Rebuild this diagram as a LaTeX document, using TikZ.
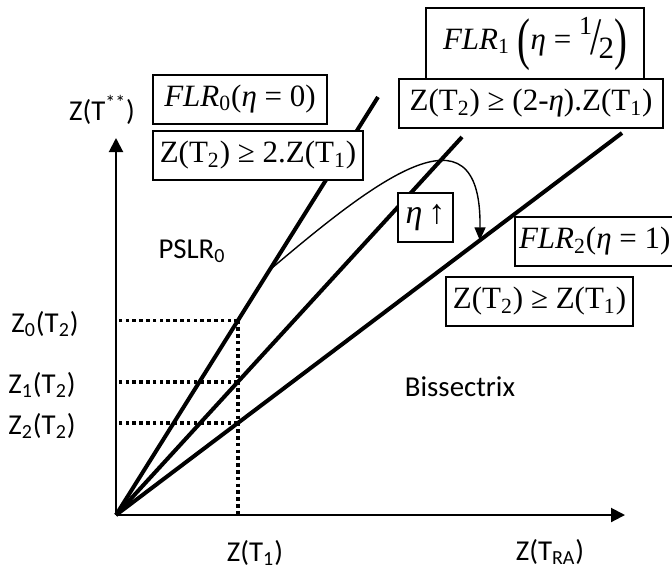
\documentclass[tikz,border=0pt]{standalone}
\usepackage{fontspec}
\setmainfont{Carlito}
\newfontfamily\tnr{Liberation Serif}
\usetikzlibrary{arrows.meta,calc}
\newcommand{\bigparen}[1]{\raisebox{-0.3em}{\scalebox{1.25}[1.85]{#1}}}
\begin{document}
\begin{tikzpicture}[x=0.5pt, y=0.5pt, every node/.style={font=\fontsize{14.4}{16}\selectfont}, line width=1pt,
  eqbox/.style={draw, fill=white, inner sep=2pt, minimum height=24.5pt, font=\fontsize{15.5}{18}\selectfont\tnr},
  dots/.style={line width=1.8pt, dash pattern=on 1.8pt off 1.6pt}]
  \useasboundingbox (0,0) rectangle (672,570);
  \coordinate (O) at (116,55);
  \coordinate (xa) at (625,55);
  \coordinate (ya) at (116,432);
  \draw[-{Triangle[length=7pt,width=7pt]}] (O) -- (xa);
  \draw[-{Triangle[length=7pt,width=7pt]}] (O) -- (ya);
  \foreach \n/\x/\y in {0/378/473, 1/462/433, 2/622/437} {
    \pgfmathsetmacro\tpos{122/(\x-116)}
    \coordinate (L\n) at (\x,\y);
    \coordinate (P\n) at ($(O)!\tpos!(L\n)$);
    \draw[line width=2pt] (O) -- (L\n);
    \draw[dots] (P\n) -- (O |- P\n);
  }
  \draw[dots] (P0) -- (P0 |- O);
  \node (zstar) at (102,460) {Z(T\textsuperscript{**})};
  \node (z0) at (45,246) {Z\textsubscript{0}(T\textsubscript{2})};
  \node (z1) at (42,185) {Z\textsubscript{1}(T\textsubscript{2})};
  \node (z2) at (42,144) {Z\textsubscript{2}(T\textsubscript{2})};
  \node (zt1) at (255,17) {Z(T\textsubscript{1})};
  \node (zra) at (550,18) {Z(T\textsubscript{RA})};
  \node (pslr) at (192,319) {PSLR\textsubscript{0}};
  \node (bis) at (460,183) {Bissectrix};
  \coordinate (C0) at ($(O)!0.586!(L0)$);
  \coordinate (C2) at ($(O)!0.719!(L2)$);
  \draw[line width=0.7pt, -{Triangle[length=6.5pt,width=5.5pt]}] (C0) .. controls (370,385) and (482,475) .. (C2);
  \node[eqbox, minimum width=87pt] (flr0) at (240,471) {\textit{FLR}\textsubscript{0}(\textit{η} = 0)};
  \node[eqbox, minimum width=105pt] (ineq0) at (258,414.5) {Z(T\textsubscript{2}) ≥ 2.Z(T\textsubscript{1})};
  \node[eqbox, minimum width=109pt, minimum height=36pt] (flr1) at (535,526) {\textit{FLR}\textsubscript{1} \bigparen{(}\textit{η} = \raisebox{.5em}{\fontsize{13}{14}\selectfont 1}\kern-.05em\raisebox{-.15em}{\scalebox{1.3}[1.7]{/}}\kern-.1em\raisebox{-.3em}{2}\bigparen{)}};
  \node[eqbox, minimum width=132pt] (ineq1) at (531,466.5) {Z(T\textsubscript{2}) ≥ (2-\textit{η}).Z(T\textsubscript{1})};
  \node[eqbox, minimum width=27.5pt, font=\fontsize{17}{20}\selectfont\tnr] (eta) at (425.5,352.5) {\textit{η}\,↑};
  \node[eqbox, anchor=west] (flr2) at (514,328.5) {\textit{FLR}\textsubscript{2}(\textit{η} = 1)};
  \node[eqbox, minimum width=93.5pt] (ineq2) at (539.5,268.5) {Z(T\textsubscript{2}) ≥ Z(T\textsubscript{1})};
\end{tikzpicture}
\end{document}
